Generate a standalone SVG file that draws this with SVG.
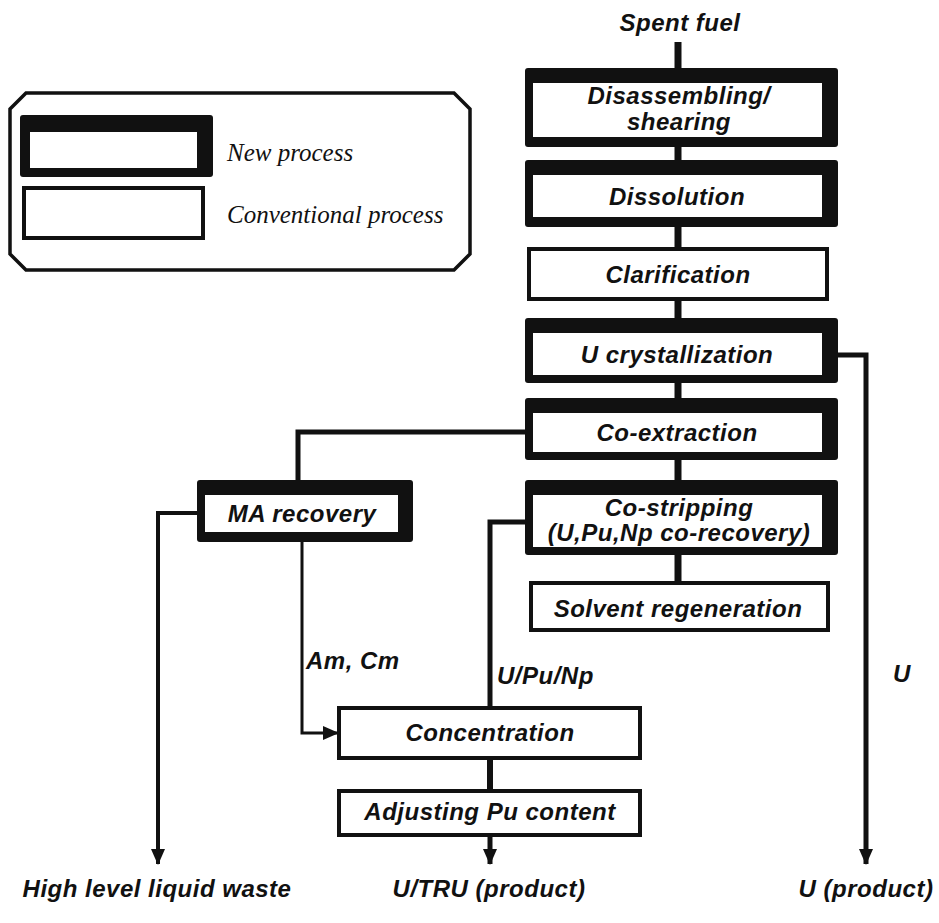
<svg xmlns="http://www.w3.org/2000/svg" width="939" height="923" viewBox="0 0 939 923">
<style>
.t{font-family:"Liberation Sans",Arial,sans-serif;font-weight:bold;font-style:italic;font-size:24px;letter-spacing:0.5px;fill:#111;text-anchor:middle}
.tl{text-anchor:start}
.leg{font-family:"Liberation Serif","Times New Roman",serif;font-style:italic;font-size:25px;fill:#111}
.outer{fill:#111}
.inner{fill:#fff}
.thin{fill:#fff;stroke:#111;stroke-width:4}
.c{fill:none;stroke:#111;stroke-linejoin:miter}
</style>
<defs>
<marker id="ah" markerUnits="userSpaceOnUse" markerWidth="16" markerHeight="16" viewBox="0 0 16 16" refX="15" refY="8" orient="auto">
<path d="M0,1 L16,8 L0,15 Z" fill="#111"/>
</marker>
</defs>
<rect width="939" height="923" fill="#fff"/>

<g id="legend">
<path d="M26,93 H454 L470,109 V254 L454,270 H26 L10,254 V109 Z" fill="#fff" stroke="#111" stroke-width="3.5"/>
<rect class="outer" x="20" y="115" width="193" height="62" rx="3"/>
<rect class="inner" x="30" y="132" width="167" height="36"/>
<rect class="thin" x="24" y="188" width="179" height="50"/>
<text class="leg" x="227" y="161">New process</text>
<text class="leg" x="227" y="223">Conventional process</text>
</g>

<g id="connectors">
<line class="c" x1="678" y1="42" x2="678" y2="70" stroke-width="7"/>
<line class="c" x1="678" y1="145" x2="678" y2="162" stroke-width="7"/>
<line class="c" x1="678" y1="225" x2="678" y2="250" stroke-width="7"/>
<line class="c" x1="678" y1="298" x2="678" y2="320" stroke-width="7"/>
<line class="c" x1="678" y1="381" x2="678" y2="400" stroke-width="7"/>
<line class="c" x1="678" y1="458" x2="678" y2="482" stroke-width="7"/>
<line class="c" x1="678" y1="553" x2="678" y2="584" stroke-width="7"/>
<polyline class="c" points="836,355 866,355 866,864" stroke-width="5" marker-end="url(#ah)"/>
<polyline class="c" points="527,432 298,432 298,482" stroke-width="5"/>
<polyline class="c" points="199,513 158,513 158,864" stroke-width="4" marker-end="url(#ah)"/>
<polyline class="c" points="302,540 302,733 338,733" stroke-width="3" marker-end="url(#ah)"/>
<polyline class="c" points="527,522 490,522 490,709" stroke-width="5"/>
<line class="c" x1="490" y1="756" x2="490" y2="792" stroke-width="6"/>
<line class="c" x1="490" y1="833" x2="490" y2="864" stroke-width="5" marker-end="url(#ah)"/>
</g>

<g id="disassembling">
<rect class="outer" x="525" y="68" width="313" height="79" rx="3"/>
<rect class="inner" x="533" y="83" width="289" height="54"/>
<text class="t" x="679" y="104">Disassembling/</text>
<text class="t" x="679" y="130">shearing</text>
</g>
<g id="dissolution">
<rect class="outer" x="525" y="160" width="313" height="67" rx="3"/>
<rect class="inner" x="533" y="175" width="289" height="42"/>
<text class="t" x="677" y="205">Dissolution</text>
</g>
<g id="clarification">
<rect class="thin" x="529" y="249" width="298" height="50"/>
<text class="t" x="678" y="283">Clarification</text>
</g>
<g id="u-crystallization">
<rect class="outer" x="525" y="318" width="313" height="65" rx="3"/>
<rect class="inner" x="533" y="333" width="289" height="42"/>
<text class="t" x="677" y="363">U crystallization</text>
</g>
<g id="co-extraction">
<rect class="outer" x="525" y="398" width="313" height="62" rx="3"/>
<rect class="inner" x="533" y="413" width="289" height="39"/>
<text class="t" x="677" y="441">Co-extraction</text>
</g>
<g id="co-stripping">
<rect class="outer" x="525" y="480" width="313" height="75" rx="3"/>
<rect class="inner" x="533" y="495" width="289" height="52"/>
<text class="t" x="679" y="516">Co-stripping</text>
<text class="t" x="679" y="541">(U,Pu,Np co-recovery)</text>
</g>
<g id="solvent-regeneration">
<rect class="thin" x="531" y="583" width="297" height="47"/>
<text class="t" x="678" y="617">Solvent regeneration</text>
</g>
<g id="ma-recovery">
<rect class="outer" x="197" y="480" width="216" height="62" rx="3"/>
<rect class="inner" x="205" y="495" width="193" height="37"/>
<text class="t" x="302" y="522">MA recovery</text>
</g>
<g id="concentration">
<rect class="thin" x="339" y="708" width="301" height="50"/>
<text class="t" x="490" y="741">Concentration</text>
</g>
<g id="adjusting-pu">
<rect class="thin" x="339" y="791" width="301" height="44"/>
<text class="t" x="490" y="820">Adjusting Pu content</text>
</g>

<g id="labels">
<text class="t" x="680" y="31">Spent fuel</text>
<text class="t tl" x="306" y="669">Am, Cm</text>
<text class="t tl" x="497" y="684">U/Pu/Np</text>
<text class="t tl" x="893" y="682">U</text>
<text class="t" x="157" y="897">High level liquid waste</text>
<text class="t" x="489" y="897">U/TRU (product)</text>
<text class="t" x="866" y="897">U (product)</text>
</g>
</svg>
